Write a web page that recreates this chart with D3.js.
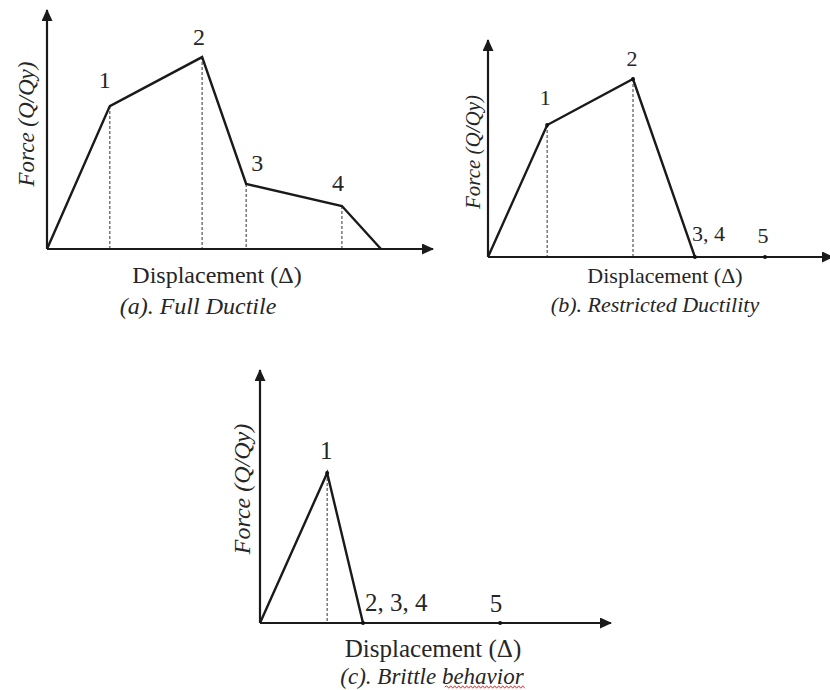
<!DOCTYPE html>
<html>
<head>
<meta charset="UTF-8" />
<title>Force - Displacement</title>
<script src="https://cdn.jsdelivr.net/npm/d3@7"></script>
<style>
  body{margin:0;background:#fff;}
  svg text{font-family:"Liberation Serif","Times New Roman",serif;fill:#262626;}
</style>
</head>
<body>
<div id="chart"></div>
<script>
// data: displacement / force (relative units, 0-100 of each axis)
var dispA=[0,16.4,40.5,52,77,87.2];
var forceA=[0,59.8,80.3,27.2,18,0];
var labelsA=['','1','2','3','4',''];

var dispB=[0,17.3,42.4,60.5];
var forceB=[0,60.8,82,0];
var labelsB=['','1','2','3, 4'];
var extraB=[{x:81,label:'5'}];

var dispC=[0,19.3,29.6];
var forceC=[0,59.3,0];
var labelsC=['','1','2, 3, 4'];
var extraC=[{x:69,label:'5'}];

var xTitle='Displacement (\u0394)';
var yTitle='Force (Q/Qy)';
var captions=['(a). Full Ductile','(b). Restricted Ductility','(c). Brittle behavior'];

var svg=d3.select('#chart').append('svg')
  .attr('width',830).attr('height',690);

svg.append('defs').append('marker')
  .attr('id','arrow')
  .attr('viewBox','0 0 12 11')
  .attr('refX',11).attr('refY',5.5)
  .attr('markerWidth',12).attr('markerHeight',11)
  .attr('markerUnits','userSpaceOnUse')
  .attr('orient','auto')
  .append('path')
  .attr('d','M0,0 L12,5.5 L0,11 Z')
  .attr('fill','#1a1a1a');

// panel layouts
var panels=[
  {disp:dispA,force:forceA,labels:labelsA,extra:[],dashed:[1,2,3,4],
   x0:47,x1:430,y0:249,y1:10,fs:24,cfs:24,dots:false,
   off:[null,[-5,-26,'middle'],[-3,-20,'middle'],[11,-21,'middle'],[-4,-23,'middle'],null],
   xt:[217,283],cap:[198,314],yt:[26,124],cap_i:0},
  {disp:dispB,force:forceB,labels:labelsB,extra:extraB,dashed:[1,2],
   x0:488,x1:830,y0:257,y1:40,fs:22,cfs:22,dots:true,
   off:[null,[-2,-28,'middle'],[-1,-21,'middle'],[-3,-24,'start']],
   extraOff:[-2,-22],
   xt:[665,283],cap:[655,312],yt:[473,152],cap_i:1},
  {disp:dispC,force:forceC,labels:labelsC,extra:extraC,dashed:[1],
   x0:260,x1:608,y0:623,y1:370,fs:25,cfs:23,dots:true,
   off:[null,[-1,-23,'middle'],[2,-21,'start']],
   extraOff:[-4,-20],
   xt:[433,657],cap:[432,684],yt:[242,489],cap_i:2}
];

panels.forEach(function(p){
  var x=d3.scaleLinear().domain([0,100]).range([p.x0,p.x1]);
  var y=d3.scaleLinear().domain([0,100]).range([p.y0,p.y1]);
  var g=svg.append('g');
  var pts=p.disp.map(function(d,i){return [d,p.force[i]];});

  //虛線
  p.dashed.forEach(function(i){
    g.append('line')
      .attr('x1',x(p.disp[i])).attr('x2',x(p.disp[i]))
      .attr('y1',y(p.force[i])).attr('y2',y(0))
      .attr('stroke','#555').attr('stroke-width',1.2)
      .attr('stroke-dasharray','3,2');
  });

  //軸
  g.append('line')
    .attr('x1',x(0)).attr('y1',y(0)).attr('x2',x(0)).attr('y2',y(100))
    .attr('stroke','#1a1a1a').attr('stroke-width',2.2)
    .attr('marker-end','url(#arrow)');
  g.append('line')
    .attr('x1',x(0)).attr('y1',y(0)).attr('x2',x(100)+3).attr('y2',y(0))
    .attr('stroke','#1a1a1a').attr('stroke-width',2.2)
    .attr('marker-end','url(#arrow)');

  //曲線
  var line=d3.line().x(function(d){return x(d[0]);}).y(function(d){return y(d[1]);});
  g.append('path')
    .attr('d',line(pts))
    .attr('fill','none').attr('stroke','#1a1a1a')
    .attr('stroke-width',2.4).attr('stroke-linejoin','miter');

  if(p.dots){
    pts.slice(1).forEach(function(d){
      g.append('circle').attr('cx',x(d[0])).attr('cy',y(d[1])).attr('r',2).attr('fill','#111');
    });
    p.extra.forEach(function(e){
      g.append('circle').attr('cx',x(e.x)).attr('cy',y(0)).attr('r',2).attr('fill','#111');
    });
  }

  //點標籤
  p.labels.forEach(function(t,i){
    if(!t) return;
    var o=p.off[i];
    g.append('text')
      .attr('x',x(p.disp[i])+o[0]).attr('y',y(p.force[i])+o[1])
      .attr('dy','0.35em')
      .attr('text-anchor',o[2])
      .style('font-size',p.fs+'px')
      .text(t);
  });
  p.extra.forEach(function(e){
    g.append('text')
      .attr('x',x(e.x)+p.extraOff[0]).attr('y',y(0)+p.extraOff[1])
      .attr('dy','0.35em')
      .attr('text-anchor','middle')
      .style('font-size',p.fs+'px')
      .text(e.label);
  });

  //軸標題
  g.append('text')
    .attr('x',p.xt[0]).attr('y',p.xt[1])
    .attr('text-anchor','middle')
    .style('font-size',p.fs+'px')
    .text(xTitle);
  g.append('text')
    .attr('transform','translate('+p.yt[0]+','+p.yt[1]+') rotate(-90)')
    .attr('dy','0.35em')
    .attr('text-anchor','middle')
    .style('font-size',(p.fs-1)+'px')
    .style('font-style','italic')
    .text(yTitle);
  var cap=g.append('text')
    .attr('x',p.cap[0]).attr('y',p.cap[1])
    .attr('text-anchor','middle')
    .style('font-size',p.cfs+'px')
    .style('font-style','italic')
    .text(captions[p.cap_i]);

  // red spell-check squiggle under "behavior"
  if(p.cap_i==2){
    var bb=cap.node().getBBox();
    var sx=bb.x+bb.width-80, ex=bb.x+bb.width, yy=p.cap[1]+3;
    var d='M'+sx+','+yy;
    for(var k=sx,up=true;k<ex;k+=2,up=!up){ d+=' L'+(k+2)+','+(yy+(up?-1.2:1.2)); }
    g.append('path').attr('d',d).attr('fill','none')
      .attr('stroke','#e03030').attr('stroke-width',1);
  }
});
</script>
</body>
</html>
